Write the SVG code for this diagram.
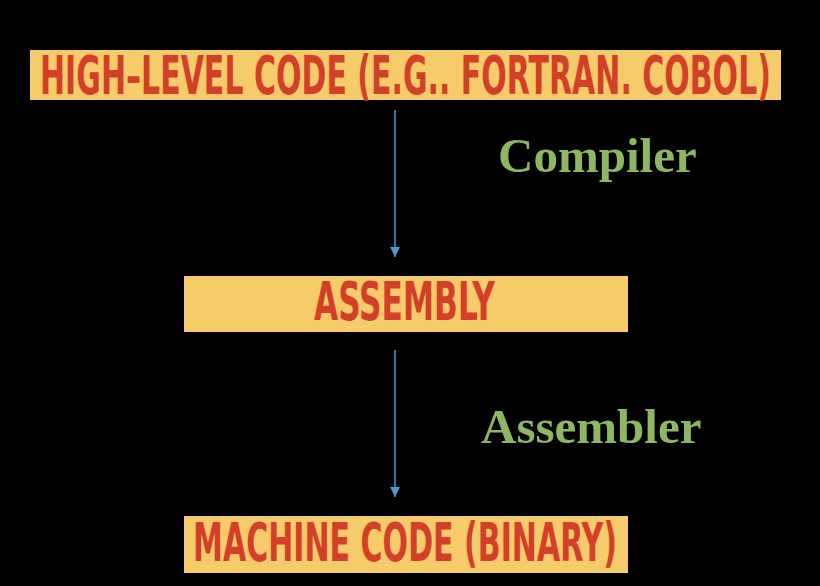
<svg xmlns="http://www.w3.org/2000/svg" width="820" height="586" viewBox="0 0 820 586">
<style>
.box{fill:#F6CC6A}
.t{font-family:"DejaVu Sans Condensed","Liberation Sans",Arial,sans-serif;font-weight:bold;fill:#D43F28;font-size:54px}
.lbl{font-family:"Liberation Serif","Times New Roman",serif;font-weight:bold;fill:#8DB760;font-size:49px}
.c{stroke:#4A9BD6;stroke-width:1.5;fill:none}
</style>
<defs>
<marker id="ah" viewBox="0 0 10 10" refX="10" refY="5" markerWidth="10" markerHeight="10" markerUnits="userSpaceOnUse" orient="auto">
<path d="M0,0 L10,5 L0,10 Z" fill="#4A9BD6"/>
</marker>
</defs>
<rect width="820" height="586" fill="#000"/>
<g id="connectors">
<line class="c" x1="395" y1="110" x2="395" y2="257" marker-end="url(#ah)"/>
<line class="c" x1="395" y1="350" x2="395" y2="497" marker-end="url(#ah)"/>
<text class="lbl" x="498" y="172">Compiler</text>
<text class="lbl" x="481" y="443">Assembler</text>
</g>
<g id="high">
<rect class="box" x="30" y="50" width="751" height="50"/>
<text class="t" transform="scale(0.6,1)" x="66.67" y="94" font-size="52" textLength="1218.3" lengthAdjust="spacingAndGlyphs">HIGH–LEVEL CODE (E.G.. FORTRAN. COBOL)</text>
</g>
<g id="assembly">
<rect class="box" x="184" y="276" width="444" height="56"/>
<text class="t" transform="scale(0.6,1)" x="523.33" y="320" textLength="301.67" lengthAdjust="spacingAndGlyphs">ASSEMBLY</text>
</g>
<g id="machine">
<rect class="box" x="184" y="516" width="444" height="57"/>
<text class="t" transform="scale(0.6,1)" x="321.67" y="561" textLength="706.67" lengthAdjust="spacingAndGlyphs">MACHINE CODE (BINARY)</text>
</g>
</svg>
